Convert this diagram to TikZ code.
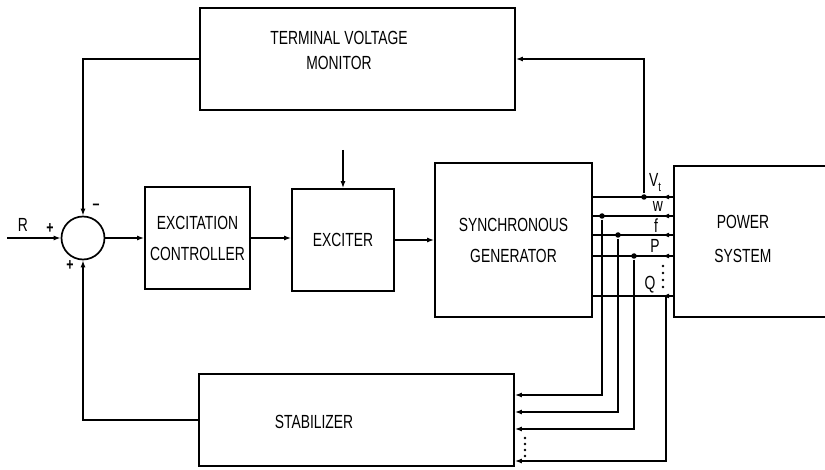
\documentclass[tikz,border=0pt]{standalone}
\usepackage{fontspec}
\setmainfont{Liberation Sans}[FakeStretch=0.73]
\usetikzlibrary{arrows.meta}

\begin{document}
\begin{tikzpicture}[x=1pt,y=-1pt,line width=1.6pt,
    blk/.style={draw,line width=1.7pt,align=center,inner sep=0pt,font=\fontsize{19}{31}\selectfont},
    txt/.style={align=center,inner sep=0pt,font=\fontsize{19}{25}\selectfont},
    sig/.style={-{Latex[length=7pt,width=5pt]}},
    jn/.style={circle,fill,inner sep=0pt,minimum size=5.5pt},
    lbl/.style={inner sep=0pt,font=\fontsize{19}{19}\selectfont},
    sgn/.style={inner sep=0pt,font=\fontsize{17}{17}\selectfont\bfseries}]
  \useasboundingbox (0,0) rectangle (825,470);
  \node[draw,circle,line width=1.7pt,minimum size=43pt,inner sep=0pt] (sum) at (83,238) {};
  \node[blk,minimum width=105pt,minimum height=102pt] (ec) at (197.5,238) {EXCITATION\\CONTROLLER};
  \node[blk,minimum width=102pt,minimum height=102pt] (exc) at (343,240) {EXCITER};
  \node[blk,minimum width=157pt,minimum height=154pt] (sg) at (513.5,240) {SYNCHRONOUS\\GENERATOR};
  \node[blk,minimum width=170pt,minimum height=151pt] (ps) at (759,241.5) {};
  \node[txt,font=\fontsize{19}{34}\selectfont] (pstxt) at (743,239) {POWER\\SYSTEM};
  \node[blk,minimum width=315pt,minimum height=102pt] (tvm) at (357.5,59) {};
  \node[txt] (tvmtxt) at (339,50) {TERMINAL VOLTAGE\\MONITOR};
  \node[blk,minimum width=315pt,minimum height=92pt] (stab) at (356.5,420) {};
  \node[txt] (stabtxt) at (314,422) {STABILIZER};
  \coordinate (r) at (7,238);
  \coordinate (uin) at (343,150);
  \draw[sig] (r) -- (sum.west);
  \draw[sig] (sum.east) -- (ec.west);
  \draw[sig] (ec.east) -- (exc.west |- ec.east);
  \draw[sig] (exc.east) -- (sg.west);
  \draw[sig] (uin) -- (exc.north);
  \draw[sig] (tvm.west) -| (sum.north);
  \draw[sig] (stab.west) -| (sum.south);
  \foreach \n/\y in {vt/197,w/216,f/235,p/256,q/296} {
    \coordinate (\n a) at (sg.east |- 0,\y);
    \coordinate (\n b) at (ps.west |- 0,\y);
    \draw (\n a) -- (\n b);
    \draw[sig] (\n b) -- ++(-11,0);
  }
  \node[jn] (vtdot) at (644,197) {};
  \node[jn] (wdot) at (602,216) {};
  \node[jn] (fdot) at (618,235) {};
  \node[jn] (pdot) at (634,256) {};
  \coordinate (qdot) at (666,296);
  \draw[sig] (vtdot) |- (tvm.east);
  \draw[sig] (wdot) |- (stab.east |- 0,395);
  \draw[sig] (fdot) |- (stab.east |- 0,412);
  \draw[sig] (pdot) |- (stab.east |- 0,429);
  \draw[sig] (qdot) |- (stab.east |- 0,461);
  \foreach \y in {266,273,280,287} \fill (663,\y) circle (1.3pt);
  \foreach \y in {438,444,450,456} \fill (525,\y) circle (1.3pt);
  \node[lbl] (rl) at (23,225) {R};
  \node[sgn] (s1) at (50,229) {+};
  \node[sgn] (s2) at (96,207) {--};
  \node[sgn] (s3) at (70,266) {+};
  \node[lbl] (vtl) at (655,183) {V\raisebox{-5pt}{\fontsize{13}{13}\selectfont t}};
  \node[lbl] (wl) at (658,206) {w};
  \node[lbl] (fl) at (656,226) {f};
  \node[lbl] (pl) at (655,246) {P};
  \node[lbl] (ql) at (650,285) {Q};
\end{tikzpicture}
\end{document}
